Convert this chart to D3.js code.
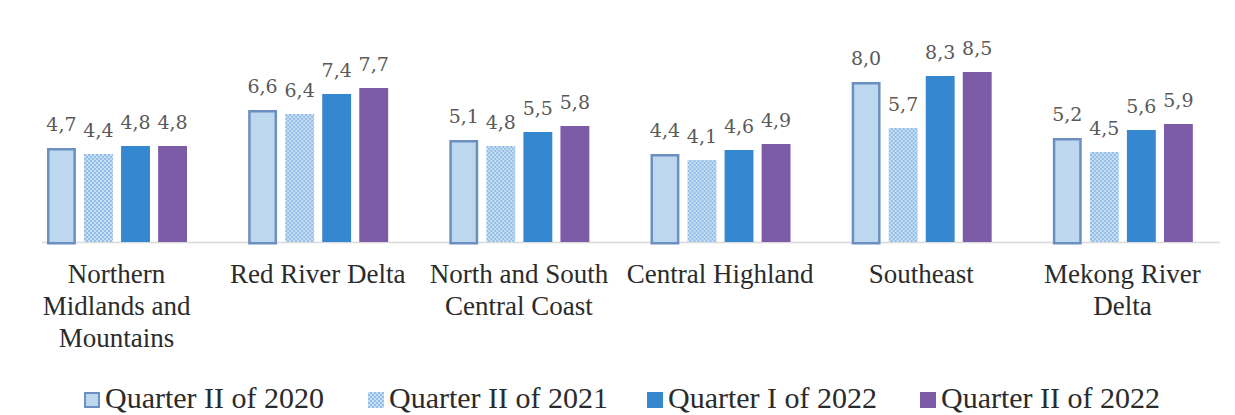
<!DOCTYPE html>
<html>
<head>
<meta charset="utf-8">
<script src="https://cdn.jsdelivr.net/npm/d3@7"></script>
<style>
  html, body { margin: 0; padding: 0; background: #ffffff; }
  svg { display: block; }
  .serif { font-family: "Liberation Serif", Tinos, "Times New Roman", Times, serif; }
  .num { font-family: "DejaVu Serif", serif; }
</style>
</head>
<body>
<svg id="chart" width="1235" height="415"></svg>
<script>
// Regions (line breaks mark where each axis label wraps)
const regions = [
  "Northern\nMidlands and\nMountains",
  "Red River Delta",
  "North and South\nCentral Coast",
  "Central Highland",
  "Southeast",
  "Mekong River\nDelta"
];

const seriesNames = [
  "Quarter II of 2020",
  "Quarter II of 2021",
  "Quarter I of 2022",
  "Quarter II of 2022"
];

const q2of2020 = [4.7, 6.6, 5.1, 4.4, 8.0, 5.2];
const q2of2021 = [4.4, 6.4, 4.8, 4.1, 5.7, 4.5];
const q1of2022 = [4.8, 7.4, 5.5, 4.6, 8.3, 5.6];
const q2of2022 = [4.8, 7.7, 5.8, 4.9, 8.5, 5.9];

const seriesValues = [q2of2020, q2of2021, q1of2022, q2of2022];

const svg = d3.select("#chart");
const defs = svg.append("defs");

// Dotted fill used by the 2021 series
const pat = defs.append("pattern")
  .attr("id", "dots2021")
  .attr("patternUnits", "userSpaceOnUse")
  .attr("width", 4).attr("height", 4);
pat.append("rect").attr("width", 4).attr("height", 4).attr("fill", "#92bde6");
pat.append("rect").attr("x", 0).attr("y", 0).attr("width", 2).attr("height", 2).attr("fill", "#c9e0f4");
pat.append("rect").attr("x", 2).attr("y", 2).attr("width", 2).attr("height", 2).attr("fill", "#c9e0f4");

const styles = [
  { fill: "#bdd7ee", stroke: "#6b8fc0", sw: 2.5 },
  { fill: "url(#dots2021)", stroke: "none", sw: 0 },
  { fill: "#3587cf", stroke: "none", sw: 0 },
  { fill: "#7d5ca7", stroke: "none", sw: 0 }
];

const y = d3.scaleLinear().domain([0, 10]).range([242, 42]);

const x0 = d3.scaleBand().domain(regions).range([16, 1223]).padding(0);
const x1 = d3.scaleBand().domain(d3.range(seriesNames.length))
  .range([31, 171]).paddingInner(0.22);

// Baseline
svg.append("line")
  .attr("x1", 42).attr("x2", 1220)
  .attr("y1", y(0) + 0.5).attr("y2", y(0) + 0.5)
  .attr("stroke", "#d9d9d9").attr("stroke-width", 1.5);

const groups = svg.selectAll("g.region")
  .data(regions)
  .join("g")
  .attr("class", "region")
  .attr("transform", d => `translate(${x0(d)},0)`);

groups.each(function(region, ri) {
  const g = d3.select(this);
  seriesValues.forEach((vals, si) => {
    const v = vals[ri];
    const st = styles[si];
    const inset = st.sw / 2;
    g.append("rect")
      .attr("x", x1(si) + inset)
      .attr("y", y(v) + inset)
      .attr("width", x1.bandwidth() - 2 * inset)
      .attr("height", y(0) - y(v))
      .attr("fill", st.fill)
      .attr("stroke", st.stroke)
      .attr("stroke-width", st.sw);
    g.append("text")
      .attr("class", "num")
      .attr("x", x1(si) + x1.bandwidth() / 2)
      .attr("y", y(v) - 17)
      .attr("text-anchor", "middle")
      .attr("font-size", 19)
      .attr("fill", "#595959")
      .text(d3.format(".1f")(v).replace(".", ","));
  });

  // Category label, wrapped
  const lines = region.split("\n");
  const t = g.append("text")
    .attr("class", "serif")
    .attr("text-anchor", "middle")
    .attr("font-size", 27)
    .attr("fill", "#2b2b2b");
  lines.forEach((ln, li) => {
    t.append("tspan")
      .attr("x", x0.bandwidth() / 2)
      .attr("y", 283 + li * 32)
      .text(ln);
  });
});

// Legend
const legendX = [84, 368, 647, 920];
const legend = svg.selectAll("g.legend")
  .data(seriesNames)
  .join("g")
  .attr("class", "legend")
  .attr("transform", (d, i) => `translate(${legendX[i]},0)`);

legend.append("rect")
  .attr("x", (d, i) => styles[i].sw ? 1 : 0)
  .attr("y", (d, i) => styles[i].sw ? 393 : 392)
  .attr("width", (d, i) => styles[i].sw ? 14 : 16)
  .attr("height", (d, i) => styles[i].sw ? 14 : 16)
  .attr("fill", (d, i) => styles[i].fill)
  .attr("stroke", (d, i) => styles[i].stroke)
  .attr("stroke-width", (d, i) => styles[i].sw ? 2 : 0);

legend.append("text")
  .attr("class", "serif")
  .attr("x", 21)
  .attr("y", 408)
  .attr("font-size", 30)
  .attr("fill", "#2b2b2b")
  .text(d => d);
</script>
</body>
</html>
